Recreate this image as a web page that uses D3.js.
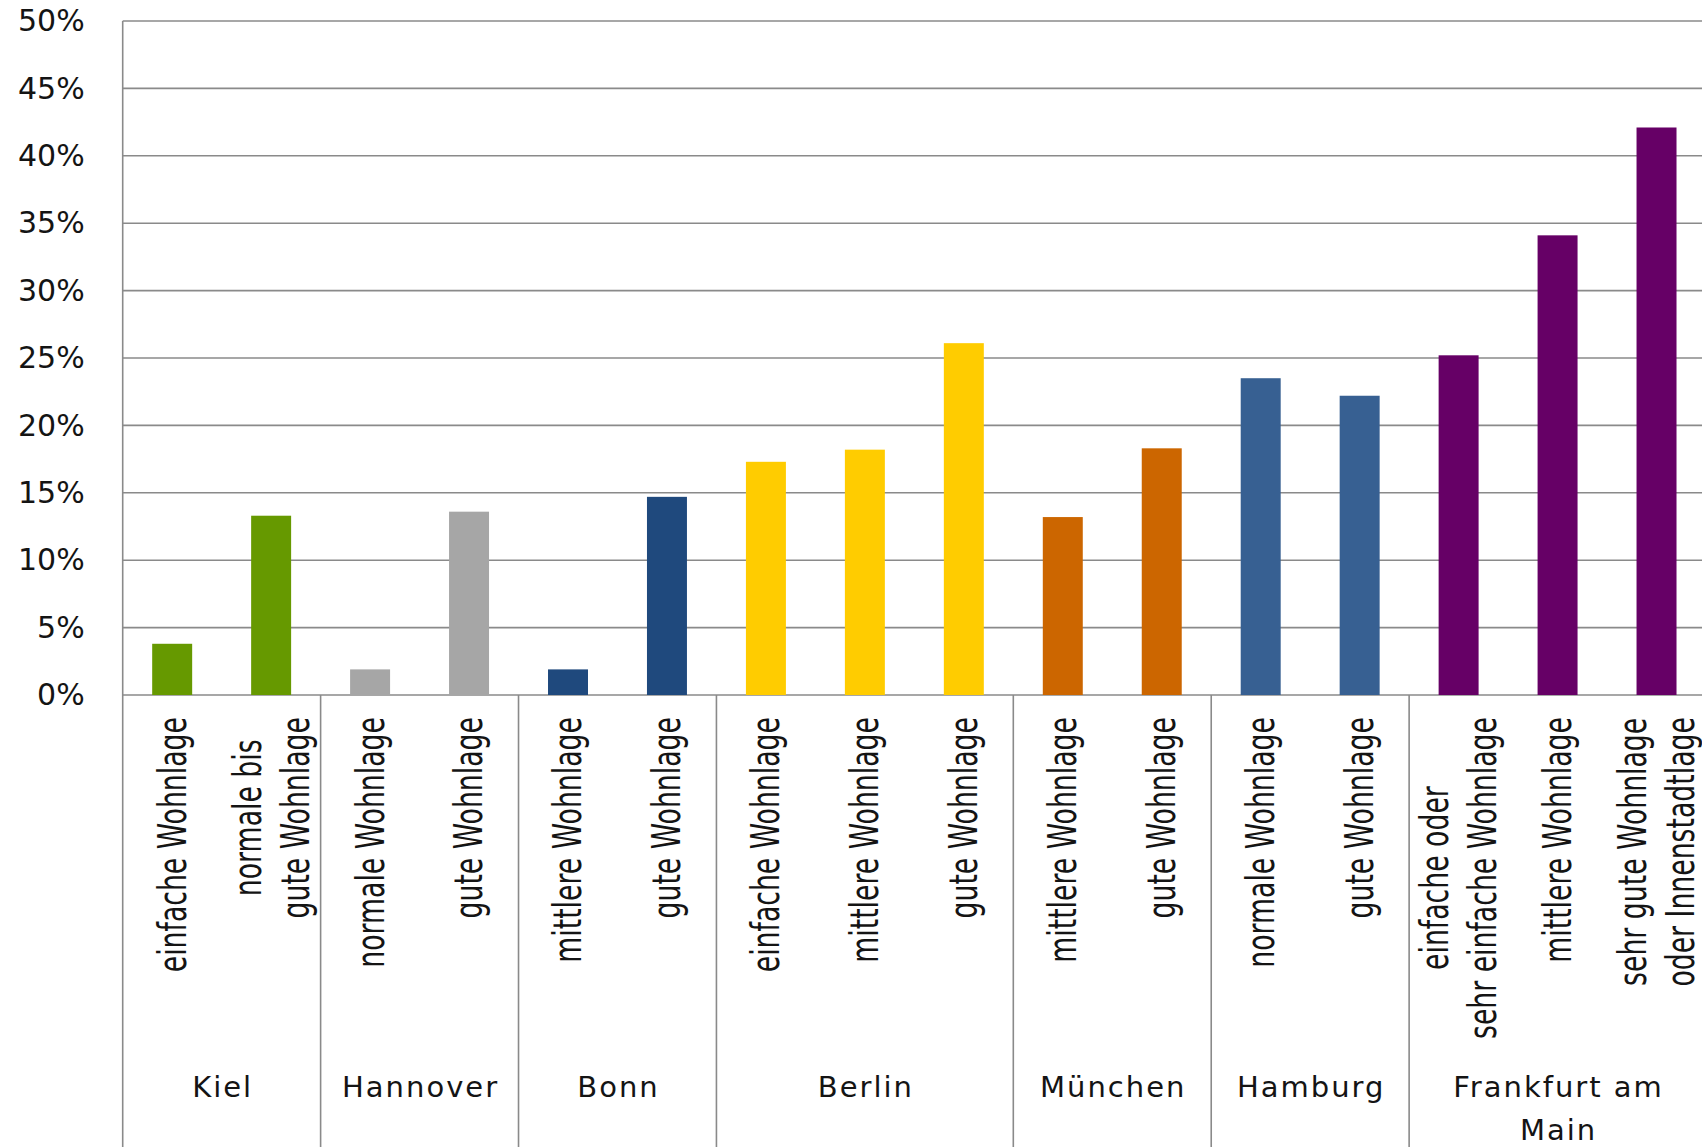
<!DOCTYPE html>
<html>
<head>
<meta charset="utf-8">
<script src="https://cdn.jsdelivr.net/npm/d3@7"></script>
<style>
  html, body { margin: 0; padding: 0; background: #ffffff; }
  svg { display: block; }
</style>
</head>
<body>
<svg id="chart" width="1702" height="1147"></svg>
<script>
// ---- data ----
const cities = ["Kiel", "Hannover", "Bonn", "Berlin", "München", "Hamburg", "Frankfurt am Main"];
const cityLabelLines = [["Kiel"], ["Hannover"], ["Bonn"], ["Berlin"], ["München"], ["Hamburg"], ["Frankfurt am", "Main"]];
const cityColors = ["#669900", "#a6a6a6", "#1f497d", "#ffcc00", "#cc6600", "#376092", "#660066"];

const barCity = ["Kiel", "Kiel", "Hannover", "Hannover", "Bonn", "Bonn",
  "Berlin", "Berlin", "Berlin", "München", "München", "Hamburg", "Hamburg",
  "Frankfurt am Main", "Frankfurt am Main", "Frankfurt am Main"];
const barLabels = [
  ["einfache Wohnlage"], ["normale bis", "gute Wohnlage"],
  ["normale Wohnlage"], ["gute Wohnlage"],
  ["mittlere Wohnlage"], ["gute Wohnlage"],
  ["einfache Wohnlage"], ["mittlere Wohnlage"], ["gute Wohnlage"],
  ["mittlere Wohnlage"], ["gute Wohnlage"],
  ["normale Wohnlage"], ["gute Wohnlage"],
  ["einfache oder", "sehr einfache Wohnlage"], ["mittlere Wohnlage"], ["sehr gute Wohnlage", "oder Innenstadtlage"]
];
const barValues = [0.038, 0.133, 0.019, 0.136, 0.019, 0.147, 0.173, 0.182, 0.261,
  0.132, 0.183, 0.235, 0.222, 0.252, 0.341, 0.421];
const yTicks = [0, 0.05, 0.10, 0.15, 0.20, 0.25, 0.30, 0.35, 0.40, 0.45, 0.50];

// ---- layout ----
const svg = d3.select("#chart");
const mLeft = 122.7, mRight = 1706, mTop = 21, mBase = 695, mBottom = 1147;
const gridColor = "#8a8a8a";
const textColor = "#141414";

const ids = barValues.map((d, i) => i);
const x = d3.scaleBand().domain(ids).range([mLeft, mRight]).paddingInner(0.596).paddingOuter(0.298);
const y = d3.scaleLinear().domain([0, 0.5]).range([mBase, mTop]);
const color = d3.scaleOrdinal().domain(cities).range(cityColors);

// gridlines
svg.append("g").selectAll("line").data(yTicks).join("line")
  .attr("x1", mLeft).attr("x2", mRight)
  .attr("y1", d => y(d)).attr("y2", d => y(d))
  .attr("stroke", gridColor).attr("stroke-width", 1.6);

// y axis labels
const yAxis = d3.axisLeft(y).tickValues(yTicks).tickFormat(d3.format(".0%")).tickSize(0).tickPadding(38);
const yg = svg.append("g").attr("transform", `translate(${mLeft},0)`).call(yAxis);
yg.select(".domain").remove();
yg.selectAll("text").attr("font-family", "DejaVu Sans, Verdana, sans-serif")
  .attr("font-size", 30).attr("fill", textColor);

// bars
svg.append("g").selectAll("rect").data(ids).join("rect")
  .attr("x", i => x(i)).attr("width", x.bandwidth())
  .attr("y", i => y(barValues[i])).attr("height", i => y(0) - y(barValues[i]))
  .attr("fill", i => color(barCity[i]));

// left axis line
svg.append("line").attr("x1", mLeft).attr("x2", mLeft).attr("y1", mTop).attr("y2", mBottom)
  .attr("stroke", gridColor).attr("stroke-width", 1.6);

// group separators
const gap = (x.step() - x.bandwidth()) / 2;
const groups = cities.map((c, gi) => {
  const members = ids.filter(i => barCity[i] === c);
  const x0 = x(members[0]) - gap;
  const x1 = x(members[members.length - 1]) + x.bandwidth() + gap;
  return { c, gi, x0, x1 };
});
svg.append("g").selectAll("line").data(groups).join("line")
  .attr("x1", d => d.x1).attr("x2", d => d.x1)
  .attr("y1", mBase).attr("y2", mBottom)
  .attr("stroke", gridColor).attr("stroke-width", 1.6);

// rotated bar labels
const labelTop = 717, lineGap = 48, fs = 39, squeeze = 0.685;
const lg = svg.append("g");
ids.forEach(i => {
  const lines = barLabels[i];
  const cx = x(i) + x.bandwidth() / 2;
  const g = lg.append("g");
  const texts = lines.map((t) => g.append("text")
    .attr("font-family", "DejaVu Sans, Verdana, sans-serif")
    .attr("font-size", fs).attr("fill", textColor)
    .attr("text-anchor", "middle").attr("dominant-baseline", "central")
    .text(t));
  const maxLen = d3.max(texts, t => t.node().getComputedTextLength()) * squeeze;
  const cy = labelTop + maxLen / 2;
  texts.forEach((t, k) => {
    const off = (k - (lines.length - 1) / 2) * lineGap;
    t.attr("transform", `translate(${cx + off},${cy}) rotate(-90) scale(${squeeze},1)`);
  });
});

// city labels
const cg = svg.append("g");
groups.forEach(d => {
  cityLabelLines[d.gi].forEach((t, k) => {
    cg.append("text").attr("x", (d.x0 + d.x1) / 2 + 1).attr("y", 1097 + k * 43)
      .attr("text-anchor", "middle")
      .attr("font-family", "DejaVu Sans, Verdana, sans-serif")
      .attr("font-size", 29).attr("letter-spacing", 2).attr("fill", textColor)
      .text(t);
  });
});
</script>
</body>
</html>
